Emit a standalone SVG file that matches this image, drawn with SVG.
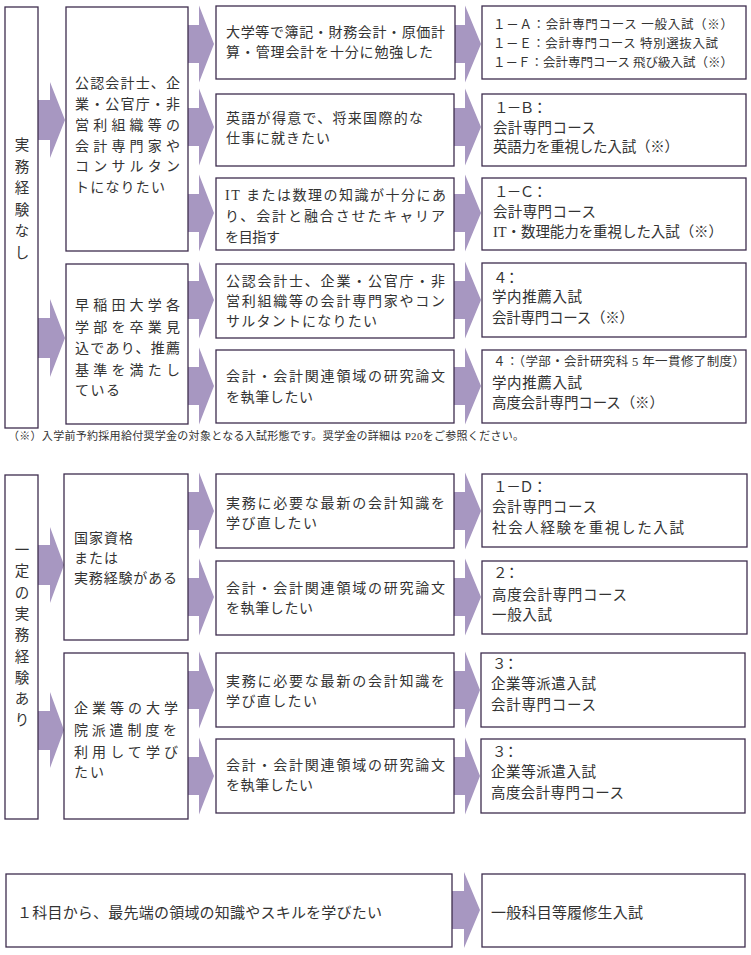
<svg xmlns="http://www.w3.org/2000/svg" width="751" height="955" viewBox="0 0 751 955">
<style>
.box{fill:#ffffff;stroke:#3e2d4e;stroke-width:1.3}
.arr{fill:#a797c1}
text{font-family:"Liberation Serif","Noto Sans CJK JP","Noto Sans CJK SC",serif;fill:#333333;dominant-baseline:central}
.f14{font-size:14px}
.f145{font-size:14.5px}
.f125{font-size:12.5px}
.f15{font-size:15px}
.fn{font-size:11px}
.v{font-size:14.5px;text-anchor:middle}
</style>
<rect width="751" height="955" fill="#ffffff"/>
<g id="connectors">
<polygon class="arr" points="38,100 50,100 50,82 65,120 50,158 50,140 38,140"/>
<polygon class="arr" points="38,318 50,318 50,299 65,338 50,377 50,358 38,358"/>
<polygon class="arr" points="38,545 50,545 50,527 64,565 50,603 50,585 38,585"/>
<polygon class="arr" points="38,711 50,711 50,692 64,730 50,768 50,750 38,750"/>
<polygon class="arr" points="188,25 199,25 199,5.5 214,44 199,82.5 199,63 188,63"/>
<polygon class="arr" points="188,108 199,108 199,88.5 214,127 199,165.5 199,146 188,146"/>
<polygon class="arr" points="188,194 199,194 199,174.5 214,213 199,251.5 199,232 188,232"/>
<polygon class="arr" points="188,281 199,281 199,261.5 214,300 199,338.5 199,319 188,319"/>
<polygon class="arr" points="188,367 199,367 199,347.5 214,386 199,424.5 199,405 188,405"/>
<polygon class="arr" points="188,492 199,492 199,472.5 214,511 199,549.5 199,530 188,530"/>
<polygon class="arr" points="188,578 199,578 199,558.5 214,597 199,635.5 199,616 188,616"/>
<polygon class="arr" points="188,671 199,671 199,651.5 214,690 199,728.5 199,709 188,709"/>
<polygon class="arr" points="188,757 199,757 199,737.5 214,776 199,814.5 199,795 188,795"/>
<polygon class="arr" points="454,25 465,25 465,5.5 481,44 465,82.5 465,63 454,63"/>
<polygon class="arr" points="454,108 465,108 465,88.5 481,127 465,165.5 465,146 454,146"/>
<polygon class="arr" points="454,194 465,194 465,174.5 481,213 465,251.5 465,232 454,232"/>
<polygon class="arr" points="454,281 465,281 465,261.5 481,300 465,338.5 465,319 454,319"/>
<polygon class="arr" points="454,367 465,367 465,347.5 481,386 465,424.5 465,405 454,405"/>
<polygon class="arr" points="454,492 465,492 465,472.5 481,511 465,549.5 465,530 454,530"/>
<polygon class="arr" points="454,578 465,578 465,558.5 481,597 465,635.5 465,616 454,616"/>
<polygon class="arr" points="454,671 465,671 465,651.5 480,690 465,728.5 465,709 454,709"/>
<polygon class="arr" points="454,757 465,757 465,737.5 480,776 465,814.5 465,795 454,795"/>
<polygon class="arr" points="452,891 464,891 464,872 480,910 464,948 464,929 452,929"/>
</g>

<g id="L1">
<rect class="box" x="5" y="7" width="33" height="421"/>
<text class="v" x="22 22 22 22 22 22" y="145 166.5 188 209.5 231 252.5">実務経験なし</text>
</g>
<g id="M1">
<rect class="box" x="66" y="7" width="122" height="244"/>
<text class="f14" x="75" y="83" textLength="105" lengthAdjust="spacing">公認会計士、企</text>
<text class="f14" x="75" y="104" textLength="105" lengthAdjust="spacing">業・公官庁・非</text>
<text class="f14" x="75" y="125" textLength="105" lengthAdjust="spacing">営利組織等の</text>
<text class="f14" x="75" y="146" textLength="105" lengthAdjust="spacing">会計専門家や</text>
<text class="f14" x="75" y="166" textLength="105" lengthAdjust="spacing">コンサルタン</text>
<text class="f14" x="75" y="187" textLength="90" lengthAdjust="spacing">トになりたい</text>
</g>
<g id="M2">
<rect class="box" x="66" y="264" width="122" height="160"/>
<text class="f14" x="75" y="305" textLength="105" lengthAdjust="spacing">早稲田大学各</text>
<text class="f14" x="75" y="327" textLength="105" lengthAdjust="spacing">学部を卒業見</text>
<text class="f14" x="75" y="348" textLength="105" lengthAdjust="spacing">込であり、推薦</text>
<text class="f14" x="75" y="370" textLength="105" lengthAdjust="spacing">基準を満たし</text>
<text class="f14" x="75" y="390" textLength="45" lengthAdjust="spacing">ている</text>
</g>
<g id="T1">
<rect class="box" x="216" y="6" width="239" height="73"/>
<text class="f14" x="226" y="32" textLength="219" lengthAdjust="spacing">大学等で簿記・財務会計・原価計</text>
<text class="f14" x="226" y="52" textLength="207" lengthAdjust="spacing">算・管理会計を十分に勉強した</text>
</g>
<g id="T2">
<rect class="box" x="216" y="94" width="238" height="72"/>
<text class="f14" x="226" y="118" textLength="197" lengthAdjust="spacing">英語が得意で、将来国際的な</text>
<text class="f14" x="226" y="138" textLength="104" lengthAdjust="spacing">仕事に就きたい</text>
</g>
<g id="T3">
<rect class="box" x="216" y="178" width="238" height="72"/>
<text class="f14" x="225" y="195" textLength="221" lengthAdjust="spacing">IT または数理の知識が十分にあ</text>
<text class="f14" x="225" y="216" textLength="220" lengthAdjust="spacing">り、会計と融合させたキャリア</text>
<text class="f14" x="225" y="237" textLength="55" lengthAdjust="spacing">を目指す</text>
</g>
<g id="T4">
<rect class="box" x="216" y="264" width="238" height="74"/>
<text class="f14" x="226" y="281" textLength="219" lengthAdjust="spacing">公認会計士、企業・公官庁・非</text>
<text class="f14" x="226" y="301" textLength="219" lengthAdjust="spacing">営利組織等の会計専門家やコン</text>
<text class="f14" x="226" y="321" textLength="151" lengthAdjust="spacing">サルタントになりたい</text>
</g>
<g id="T5">
<rect class="box" x="216" y="350" width="238" height="73"/>
<text class="f14" x="226" y="376" textLength="219" lengthAdjust="spacing">会計・会計関連領域の研究論文</text>
<text class="f14" x="226" y="397" textLength="87" lengthAdjust="spacing">を執筆したい</text>
</g>
<g id="R1">
<rect class="box" x="482" y="6" width="264" height="73"/>
<text class="f125" x="493" y="25" textLength="240" lengthAdjust="spacing">１－Ａ：会計専門コース 一般入試（※）</text>
<text class="f125" x="493" y="44" textLength="225" lengthAdjust="spacing">１－Ｅ：会計専門コース 特別選抜入試</text>
<text class="f125" x="493" y="63" textLength="240" lengthAdjust="spacing">１－Ｆ：会計専門コース 飛び級入試（※）</text>
</g>
<g id="R2">
<rect class="box" x="482" y="94" width="264" height="72"/>
<text class="f145" x="494" y="108" textLength="53" lengthAdjust="spacing">１－Ｂ：</text>
<text class="f145" x="493" y="128" textLength="103" lengthAdjust="spacing">会計専門コース</text>
<text class="f145" x="493" y="147" textLength="186" lengthAdjust="spacing">英語力を重視した入試（※）</text>
</g>
<g id="R3">
<rect class="box" x="482" y="178" width="264" height="72"/>
<text class="f145" x="494" y="192" textLength="53" lengthAdjust="spacing">１－Ｃ：</text>
<text class="f145" x="493" y="212" textLength="103" lengthAdjust="spacing">会計専門コース</text>
<text class="f145" x="493" y="232" textLength="230" lengthAdjust="spacing">IT・数理能力を重視した入試（※）</text>
</g>
<g id="R4">
<rect class="box" x="482" y="263" width="264" height="74"/>
<text class="f145" x="493" y="278" textLength="26" lengthAdjust="spacing">４：</text>
<text class="f145" x="492" y="297" textLength="90" lengthAdjust="spacing">学内推薦入試</text>
<text class="f145" x="492" y="318" textLength="142" lengthAdjust="spacing">会計専門コース（※）</text>
</g>
<g id="R5">
<rect class="box" x="482" y="350" width="264" height="73"/>
<text class="f125" x="493" y="362" textLength="252" lengthAdjust="spacing">４：（学部・会計研究科 5 年一貫修了制度）</text>
<text class="f145" x="492" y="383" textLength="90" lengthAdjust="spacing">学内推薦入試</text>
<text class="f145" x="492" y="403" textLength="172" lengthAdjust="spacing">高度会計専門コース（※）</text>
</g>
<text class="fn" x="8" y="436" textLength="516" lengthAdjust="spacing">（※）入学前予約採用給付奨学金の対象となる入試形態です。奨学金の詳細は P20をご参照ください。</text>

<g id="L2">
<rect class="box" x="5" y="475" width="33" height="344"/>
<text class="v" x="22 22 22 22 22 22 22 22 22" y="550 571.3 592.6 613.9 635.2 656.5 677.8 699.1 720.4">一定の実務経験あり</text>
</g>
<g id="M3">
<rect class="box" x="64" y="474" width="124" height="166"/>
<text class="f14" x="74" y="538" textLength="59" lengthAdjust="spacing">国家資格</text>
<text class="f14" x="74" y="558" textLength="44" lengthAdjust="spacing">または</text>
<text class="f14" x="74" y="578" textLength="103" lengthAdjust="spacing">実務経験がある</text>
</g>
<g id="M4">
<rect class="box" x="64" y="653" width="124" height="166"/>
<text class="f14" x="74" y="708" textLength="104" lengthAdjust="spacing">企業等の大学</text>
<text class="f14" x="74" y="730" textLength="103" lengthAdjust="spacing">院派遣制度を</text>
<text class="f14" x="74" y="752" textLength="104" lengthAdjust="spacing">利用して学び</text>
<text class="f14" x="74" y="772" textLength="30" lengthAdjust="spacing">たい</text>
</g>
<g id="T6">
<rect class="box" x="216" y="474" width="238" height="74"/>
<text class="f14" x="226" y="503" textLength="219" lengthAdjust="spacing">実務に必要な最新の会計知識を</text>
<text class="f14" x="226" y="523" textLength="91" lengthAdjust="spacing">学び直したい</text>
</g>
<g id="T7">
<rect class="box" x="216" y="561" width="238" height="74"/>
<text class="f14" x="226" y="588" textLength="219" lengthAdjust="spacing">会計・会計関連領域の研究論文</text>
<text class="f14" x="226" y="608" textLength="87" lengthAdjust="spacing">を執筆したい</text>
</g>
<g id="T8">
<rect class="box" x="216" y="653" width="238" height="74"/>
<text class="f14" x="226" y="681" textLength="219" lengthAdjust="spacing">実務に必要な最新の会計知識を</text>
<text class="f14" x="226" y="701" textLength="91" lengthAdjust="spacing">学び直したい</text>
</g>
<g id="T9">
<rect class="box" x="216" y="739" width="238" height="74"/>
<text class="f14" x="226" y="765" textLength="219" lengthAdjust="spacing">会計・会計関連領域の研究論文</text>
<text class="f14" x="226" y="785" textLength="87" lengthAdjust="spacing">を執筆したい</text>
</g>
<g id="R6">
<rect class="box" x="482" y="474" width="265" height="73"/>
<text class="f145" x="493" y="487" textLength="54" lengthAdjust="spacing">１－Ｄ：</text>
<text class="f145" x="492" y="507" textLength="105" lengthAdjust="spacing">会計専門コース</text>
<text class="f145" x="492" y="528" textLength="192" lengthAdjust="spacing">社会人経験を重視した入試</text>
</g>
<g id="R7">
<rect class="box" x="482" y="561" width="265" height="73"/>
<text class="f145" x="493" y="573" textLength="26" lengthAdjust="spacing">２：</text>
<text class="f145" x="492" y="595" textLength="135" lengthAdjust="spacing">高度会計専門コース</text>
<text class="f145" x="492" y="615" textLength="60" lengthAdjust="spacing">一般入試</text>
</g>
<g id="R8">
<rect class="box" x="481" y="653" width="264" height="74"/>
<text class="f145" x="492" y="664" textLength="26" lengthAdjust="spacing">３：</text>
<text class="f145" x="491" y="684" textLength="105" lengthAdjust="spacing">企業等派遣入試</text>
<text class="f145" x="491" y="705" textLength="105" lengthAdjust="spacing">会計専門コース</text>
</g>
<g id="R9">
<rect class="box" x="481" y="739" width="264" height="74"/>
<text class="f145" x="492" y="752" textLength="26" lengthAdjust="spacing">３：</text>
<text class="f145" x="491" y="772" textLength="105" lengthAdjust="spacing">企業等派遣入試</text>
<text class="f145" x="491" y="793" textLength="133" lengthAdjust="spacing">高度会計専門コース</text>
</g>
<g id="B1">
<rect class="box" x="6" y="874" width="446" height="73"/>
<text class="f15" x="17" y="913" textLength="365" lengthAdjust="spacing">１科目から、最先端の領域の知識やスキルを学びたい</text>
</g>
<g id="B2">
<rect class="box" x="482" y="874" width="263" height="73"/>
<text class="f15" x="491" y="913" textLength="152" lengthAdjust="spacing">一般科目等履修生入試</text>
</g>
</svg>
